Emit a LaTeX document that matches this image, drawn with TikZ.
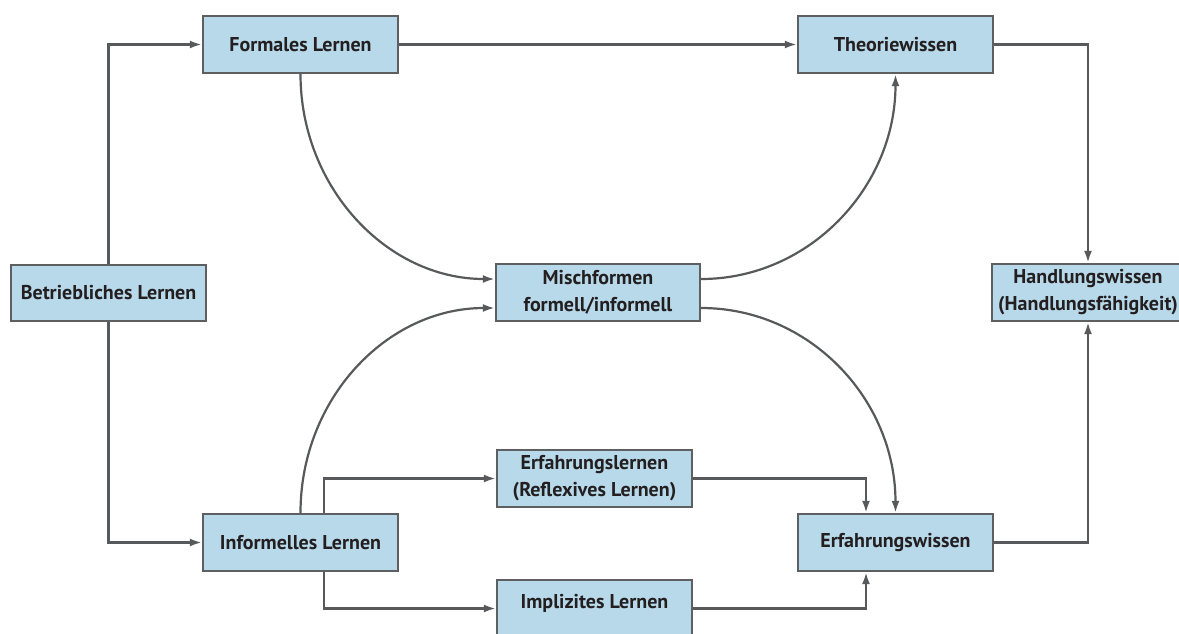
\documentclass[tikz,border=0pt]{standalone}
\usepackage{fontspec}
\setmainfont{PT Sans}
\usetikzlibrary{arrows.meta,calc}
\definecolor{boxfill}{HTML}{B8D9EA}
\definecolor{boxline}{HTML}{5E5F61}
\definecolor{conn}{HTML}{58595B}
\definecolor{txt}{HTML}{231F20}
\begin{document}
\begin{tikzpicture}[x=1pt,y=-1pt,
  box/.style={draw=boxline,fill=boxfill,line width=2.4pt,minimum width=195pt,minimum height=57pt,
    inner sep=0pt,align=center,text=txt,font=\fontsize{20}{27}\selectfont\bfseries},
  conline/.style={draw=conn,line width=2.2pt,-{Latex[length=12pt,width=8pt]}}]
\useasboundingbox (0,0) rectangle (1179,633);
\node[box] (formal) at (300.5,44.5) {Formales Lernen};
\node[box] (theorie) at (895.5,44.5) {Theoriewissen};
\node[box,minimum height=56pt] (betrieb) at (108.5,293) {Betriebliches Lernen};
\node[box,minimum width=204pt] (misch) at (598,292.5) {Mischformen\\formell/informell};
\node[box,minimum width=192pt] (handlung) at (1088,292.5) {Handlungswissen\\(Handlungsfähigkeit)};
\node[box] (informell) at (300.5,542.5) {Informelles Lernen};
\node[box] (erfl) at (594.5,478.5) {Erfahrungslernen\\(Reflexives Lernen)};
\node[box,text depth=14pt] (impl) at (594.5,608.5) {Implizites Lernen};
\node[box] (erfw) at (895.5,542.5) {Erfahrungswissen};
% connectors
\draw[conline] (betrieb.north) |- (formal.west);
\draw[conline] (betrieb.south) |- (informell.west);
\draw[conline] (formal.east) -- (theorie.west);
\draw[conline] (theorie.east) -| (handlung.north);
\draw[conline] (erfw.east) -| (handlung.south);
\draw[conline] (formal.south) .. controls ($(formal.south)+(0,113)$) and ($(misch.west)+(-108,-13.5)$) .. ($(misch.west)+(0,-13.5)$);
\draw[conline] ($(misch.east)+(0,-13.5)$) .. controls ($(misch.east)+(108,-13.5)$) and ($(theorie.south)+(0,113)$) .. (theorie.south);
\draw[conline] (informell.north) .. controls ($(informell.north)+(0,-114)$) and ($(misch.west)+(-108,15.5)$) .. ($(misch.west)+(0,15.5)$);
\draw[conline] ($(misch.east)+(0,15.5)$) .. controls ($(misch.east)+(108,15.5)$) and ($(erfw.north)+(0,-114)$) .. (erfw.north);
\draw[conline] ($(informell.north)+(23.5,0)$) |- (erfl.west);
\draw[conline] ($(informell.south)+(23.5,0)$) |- (impl.west);
\draw[conline] (erfl.east) -| ($(erfw.north)+(-29.5,0)$);
\draw[conline] (impl.east) -| ($(erfw.south)+(-29.5,0)$);
\end{tikzpicture}
\end{document}
